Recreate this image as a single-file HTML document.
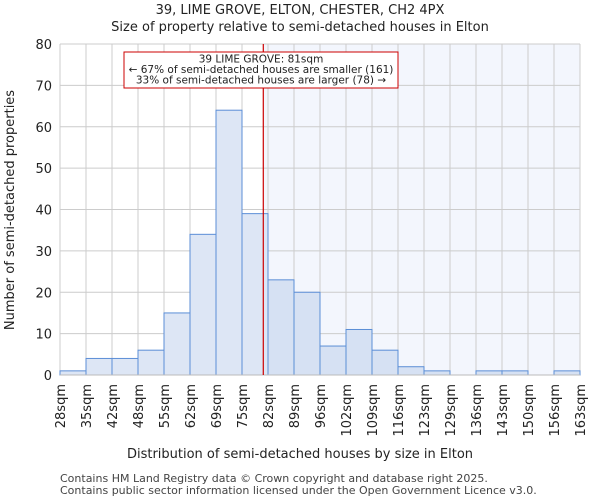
<!DOCTYPE html>
<html><head><meta charset="utf-8"><style>
body{margin:0;background:#fff;font-family:"DejaVu Sans","Liberation Sans",sans-serif}
</style></head><body>
<svg width="600" height="500" xmlns="http://www.w3.org/2000/svg" font-family="DejaVu Sans, Liberation Sans, sans-serif">
<text x="300" y="14" text-anchor="middle" font-size="13" fill="#222">39, LIME GROVE, ELTON, CHESTER, CH2 4PX</text>
<text x="300" y="31" text-anchor="middle" font-size="13" fill="#222">Size of property relative to semi-detached houses in Elton</text>
<g id="plot"></g>
<text x="300" y="458" text-anchor="middle" font-size="13" fill="#222">Distribution of semi-detached houses by size in Elton</text>
<text transform="translate(14,210) rotate(-90)" text-anchor="middle" font-size="13" fill="#222">Number of semi-detached properties</text>
<text x="60" y="482" font-size="11" fill="#444">Contains HM Land Registry data © Crown copyright and database right 2025.</text>
<text x="60" y="494" font-size="11" fill="#444">Contains public sector information licensed under the Open Government Licence v3.0.</text>
</svg>
<script>
const binLabels=["28sqm","35sqm","42sqm","48sqm","55sqm","62sqm","69sqm","75sqm","82sqm","89sqm","96sqm","102sqm","109sqm","116sqm","123sqm","129sqm","136sqm","143sqm","150sqm","156sqm","163sqm"];
const counts=[1,4,4,6,15,34,64,39,23,20,7,11,6,2,1,0,1,1,0,1];
const yTicks=[0,10,20,30,40,50,60,70,80];
const markerValue=81;
const binStarts=[28,35,42,48,55,62,69,75,82,89,96,102,109,116,123,129,136,143,150,156,163];
const X0=60,X1=580,Y0=375,Y1=44,YMAX=80;
const n=counts.length,bw=(X1-X0)/n;
const xb=i=>X0+i*bw;
const y=v=>Y0-(v/YMAX)*(Y0-Y1);
function markerX(v){for(let i=0;i<binStarts.length-1;i++){if(v>=binStarts[i]&&v<=binStarts[i+1])return xb(i)+(v-binStarts[i])/(binStarts[i+1]-binStarts[i])*bw;}return X1;}
const NS="http://www.w3.org/2000/svg";
const g=document.getElementById('plot');
function mk(t,a){const e=document.createElementNS(NS,t);for(const k in a)e.setAttribute(k,a[k]);g.appendChild(e);return e;}
const mx=markerX(markerValue)-1;
let e=mk('rect',{x:mx,y:Y1,width:X1-mx,height:Y0-Y1,fill:'#f3f6fd'});


yTicks.forEach(t=>{
 let l=mk('line',{x1:X0,x2:X1,y1:y(t),y2:y(t),stroke:'#cccccc','stroke-width':1});
 
 
 let tx=mk('text',{x:X0-8,y:y(t)+5,'text-anchor':'end','font-size':13,fill:'#222'});
 tx.textContent=t;
 
 
});
binLabels.forEach((lb,i)=>{
 let l=mk('line',{x1:xb(i),x2:xb(i),y1:Y1,y2:Y0,stroke:'#cccccc','stroke-width':1});
 
 
 let tx=mk('text',{transform:`translate(${xb(i)+5},384) rotate(-90)`,'text-anchor':'end','font-size':13,fill:'#222'});
 tx.textContent=lb;
 
 
});
counts.forEach((c,i)=>{
 if(c<=0)return;
 const r=mk('rect',{x:xb(i),y:y(c),width:bw,height:Y0-y(c),fill:xb(i)>=mx?'#d6e1f3':'#dde6f5',stroke:'#5b8ed6','stroke-width':1});
 
 
});
e=mk('line',{x1:X0,x2:X1,y1:Y0,y2:Y0,stroke:'#bbbbbb','stroke-width':1});


e=mk('line',{x1:mx,x2:mx,y1:Y1,y2:Y0,stroke:'#cc0000','stroke-width':1.2});


e=mk('rect',{x:124,y:52,width:274,height:36,fill:'#fff',stroke:'#cc0000','stroke-width':1});


["39 LIME GROVE: 81sqm","← 67% of semi-detached houses are smaller (161)","33% of semi-detached houses are larger (78) →"].forEach((s,i)=>{
 let t=mk('text',{x:261,y:62.5+i*10.5,'text-anchor':'middle','font-size':10.5,fill:'#222'});
 t.textContent=s;
 
 
});
</script>
</body></html>
